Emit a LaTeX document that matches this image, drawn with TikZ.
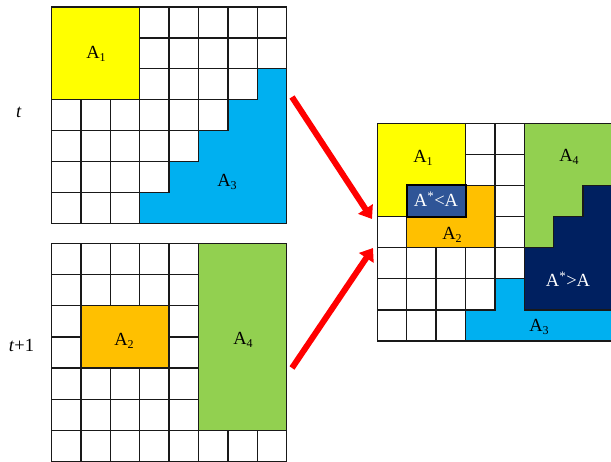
\documentclass[tikz,border=0pt]{standalone}
\usepackage{fontspec}
\setmainfont{Liberation Serif}
\usetikzlibrary{arrows.meta}
\definecolor{cyellow}{HTML}{FFFF00}
\definecolor{corange}{HTML}{FFC000}
\definecolor{cblue}{HTML}{00B0F0}
\definecolor{cgreen}{HTML}{92D050}
\definecolor{cnavy}{HTML}{002060}
\definecolor{csteel}{HTML}{2F5597}
\newcommand{\lsub}[1]{\raisebox{-0.35ex}{\fontsize{12}{14}\selectfont #1}}
\begin{document}
\begin{tikzpicture}[x=1pt,y=-1pt,
  gridline/.style={line width=1.3pt, draw=black!90},
  thickline/.style={line width=2pt, draw=black},
  lbl/.style={anchor=base, inner sep=0pt, font=\fontsize{18.5}{22}\selectfont},
  wlbl/.style={lbl, text=white},
  bigarrow/.style={draw=red, line width=6pt, -{Triangle[length=12pt,width=17pt]}}]
\useasboundingbox (0,0) rectangle (611,462);
\clip (0,0) rectangle (611,462);

% ---------- top-left grid (t) ----------
\begin{scope}[shift={(51.5,7)},x=29.4pt,y=-30.9pt]
  \fill[cyellow] (0,0) rectangle (3,3);
  \fill[cblue] (7,2) -| (8,7) -| (3,6) -| (4,5) -| (5,4) -| (6,3) -| (7,2) -- cycle;
  \foreach \r/\a/\b in {0/3/7,1/3/7,2/3/6,3/0/5,4/0/4,5/0/3,6/0/2}
    \foreach \c in {\a,...,\b} \draw[gridline] (\c,\r) rectangle ++(1,1);
  \draw[gridline] (0,0) rectangle (3,3);
  \draw[gridline] (7,2) -| (8,7) -| (3,6) -| (4,5) -| (5,4) -| (6,3) -| (7,2) -- cycle;
  \draw[gridline] (0,0) rectangle (8,7);
\end{scope}

% ---------- bottom-left grid (t+1) ----------
\begin{scope}[shift={(51.5,243.3)},x=29.4pt,y=-31.2pt]
  \fill[corange] (1,2) rectangle (4,4);
  \fill[cgreen] (5,0) rectangle (8,6);
  \foreach \r/\a/\b in {0/0/4,1/0/4,4/0/4,5/0/4,6/0/7}
    \foreach \c in {\a,...,\b} \draw[gridline] (\c,\r) rectangle ++(1,1);
  \foreach \c/\r in {0/2,4/2,0/3,4/3} \draw[gridline] (\c,\r) rectangle ++(1,1);
  \draw[gridline] (1,2) rectangle (4,4);
  \draw[gridline] (5,0) rectangle (8,6);
  \draw[gridline] (0,0) rectangle (8,7);
\end{scope}

% ---------- right grid (merged) ----------
\begin{scope}[shift={(377.3,123.3)},x=29.4pt,y=-31.1pt]
  \fill[cyellow] (0,0) rectangle (3,3);
  \fill[corange] (1,2) rectangle (4,4);
  \fill[cgreen] (5,0) rectangle (8,6);
  \fill[cblue] (7,2) -| (8,7) -| (3,6) -| (4,5) -| (5,4) -| (6,3) -| (7,2) -- cycle;
  \fill[cnavy] (7,2) -| (8,6) -| (5,4) -| (6,3) -| (7,2) -- cycle;
  \fill[csteel] (1,2) rectangle (3,3);
  \foreach \r/\a/\b in {0/3/4,1/3/4,2/4/4,4/0/4,5/0/3,6/0/2}
    \foreach \c in {\a,...,\b} \draw[gridline] (\c,\r) rectangle ++(1,1);
  \foreach \c/\r in {0/3,4/3} \draw[gridline] (\c,\r) rectangle ++(1,1);
  \draw[gridline] (0,0) rectangle (3,3);
  \draw[gridline] (1,2) rectangle (4,4);
  \draw[gridline] (5,0) rectangle (8,6);
  \draw[gridline] (7,2) -| (8,7) -| (3,6) -| (4,5) -| (5,4) -| (6,3) -| (7,2) -- cycle;
  \draw[thickline] (1,2) rectangle (3,3);
  \draw[gridline] (0,0) rectangle (8,7);
\end{scope}

% ---------- labels ----------
\node[lbl] (la1) at (96,58.5) {A\lsub{1}};
\node[lbl] (la3) at (227,187) {A\lsub{3}};
\node[lbl] (lb2) at (124,346) {A\lsub{2}};
\node[lbl] (lb4) at (243,345) {A\lsub{4}};
\node[lbl] (lr1) at (423,163) {A\lsub{1}};
\node[wlbl] (lrlt) at (436,206.5) {A\textsuperscript{*}<A};
\node[lbl] (lr2) at (452,240) {A\lsub{2}};
\node[lbl] (lr4) at (569,162) {A\lsub{4}};
\node[wlbl] (lrgt) at (568,286.5) {A\textsuperscript{*}>A};
\node[lbl] (lr3) at (539,331.5) {A\lsub{3}};
\node[lbl] (lt) at (19,118) {\textit{t}};
\node[lbl] (lt1) at (21.5,351.5) {\textit{t}+1};

% ---------- arrows ----------
\coordinate (s1) at (292,97);
\coordinate (e1) at (372,219);
\coordinate (s2) at (292,368);
\coordinate (e2) at (373,248);
\draw[bigarrow] (s1) -- (e1);
\draw[bigarrow] (s2) -- (e2);
\end{tikzpicture}
\end{document}
